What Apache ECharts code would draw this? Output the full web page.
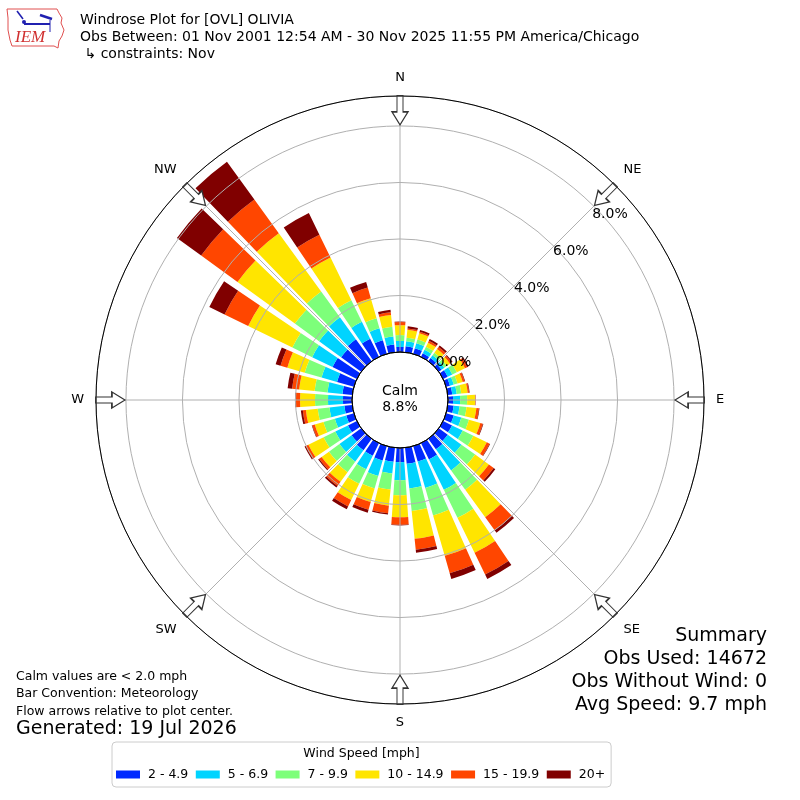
<!DOCTYPE html>
<html><head><meta charset="utf-8">
<script src="https://cdn.jsdelivr.net/npm/echarts@6/dist/echarts.min.js"></script>
<style>html,body{margin:0;padding:0;background:#fff}#c{width:800px;height:800px}</style>
</head><body><div id="c"></div>
<script>
// ---- data (percent of observations), direction bins clockwise from North ----
const directions = [0,10,20,30,40,50,60,70,80,90,100,110,120,130,140,150,160,170,180,190,200,210,220,230,240,250,260,270,280,290,300,310,320,330,340,350];
const speedBins = ['2 - 4.9','5 - 6.9','7 - 9.9','10 - 14.9','15 - 19.9','20+'];
const binColors = ['#0029ff','#00d4ff','#7dff7a','#ffe500','#ff4600','#800000'];
const pct_2_5   = [0.18,0.21,0.21,0.14,0.14,0.12,0.18,0.14,0.16,0.18,0.21,0.28,0.35,0.39,0.46,0.64,0.57,0.57,0.50,0.50,0.53,0.50,0.50,0.42,0.35,0.28,0.28,0.32,0.35,0.62,0.96,0.88,0.96,0.71,0.50,0.28];
const pct_5_7   = [0.21,0.18,0.18,0.14,0.12,0.12,0.18,0.14,0.16,0.25,0.21,0.28,0.42,0.60,0.92,1.20,0.97,0.88,0.64,0.42,0.57,0.53,0.50,0.53,0.50,0.42,0.53,0.53,0.53,0.57,0.80,0.96,0.96,0.67,0.44,0.28];
const pct_7_10  = [0.21,0.13,0.14,0.12,0.11,0.11,0.18,0.14,0.16,0.25,0.25,0.28,0.42,0.60,0.85,1.10,1.01,0.80,0.53,0.57,0.46,0.57,0.46,0.46,0.46,0.42,0.42,0.46,0.46,0.62,0.78,1.06,1.13,0.85,0.37,0.35];
const pct_10_15 = [0.35,0.28,0.23,0.16,0.16,0.14,0.32,0.19,0.23,0.28,0.35,0.42,0.53,0.60,1.20,1.38,1.49,0.99,0.78,0.57,0.50,0.64,0.42,0.32,0.60,0.32,0.42,0.53,0.55,0.64,1.74,2.51,2.55,1.68,0.74,0.42];
const pct_15_20 = [0.11,0.05,0.05,0.07,0.09,0.07,0.09,0.07,0.05,0.01,0.09,0.09,0.11,0.21,0.57,0.85,0.64,0.39,0.27,0.27,0.28,0.25,0.18,0.11,0.11,0.09,0.11,0.16,0.25,0.25,0.93,1.59,1.47,0.90,0.39,0.09];
const pct_20p   = [0.02,0.08,0.07,0.07,0.07,0.04,0.05,0.02,0.02,0.01,0.02,0.02,0.02,0.07,0.11,0.18,0.21,0.11,0.02,0.05,0.11,0.11,0.07,0.04,0.04,0.02,0.07,0.02,0.16,0.18,0.60,1.06,1.65,0.85,0.21,0.09];
const compassAngles = [0,45,90,135,180,225,270,315];
const compassLabels = ['N','NE','E','SE','S','SW','W','NW'];
const radialTicks = [0,2,4,6,8];
const calmPct = 8.8;
const RMAX = 9.06;      // outer circle value
const ARROW_R = 8.55;   // flow arrow centre radius
const titleLines = ['Windrose Plot for [OVL] OLIVIA','Obs Between: 01 Nov 2001 12:54 AM - 30 Nov 2025 11:55 PM America/Chicago',' \u21b3 constraints: Nov'];
const noteLines = ['Calm values are < 2.0 mph','Bar Convention: Meteorology','Flow arrows relative to plot center.'];
const summaryLines = ['Summary','Obs Used: 14672','Obs Without Wind: 0','Avg Speed: 9.7 mph'];
const generatedText = 'Generated: 19 Jul 2026';

const binSeries = [pct_2_5,pct_5_7,pct_7_10,pct_10_15,pct_15_20,pct_20p];
const FF = '"DejaVu Sans", sans-serif';
const GRID = '#b0b0b0';
const ARROW_PATH = 'path://M5,0L11,0L11,16L16,16L8,29L0,16L5,16Z';

const chart = echarts.init(document.getElementById('c'), null, {renderer:'canvas'});
const series = speedBins.map((name,i)=>({
  type:'bar', name, coordinateSystem:'polar', polarIndex:0, stack:'wind',
  data: binSeries[i], barCategoryGap:'20%', itemStyle:{color:binColors[i]}, z:2, silent:true
}));
series.push({
  type:'scatter', coordinateSystem:'polar', polarIndex:1, silent:true,
  data: compassAngles.map(a=>[ARROW_R,a]),
  symbol: ARROW_PATH, symbolSize:[16,29], symbolRotate:(v)=>-v[1],
  itemStyle:{color:'#fff', borderColor:'#333', borderWidth:1.3, opacity:1}, z:6
});

chart.setOption({
  animation:false,
  backgroundColor:'#fff',
  textStyle:{fontFamily:FF},
  title:[
    {text:titleLines.join('\n'), left:80, top:12, padding:0, textStyle:{fontSize:14, lineHeight:17, fontWeight:'normal', color:'#000', fontFamily:FF}},
    {text:'Calm\n'+calmPct.toFixed(1)+'%', left:400, top:383, padding:0, textAlign:'center', textStyle:{fontSize:14, lineHeight:16, fontWeight:'normal', color:'#000', fontFamily:FF}},
    {text:noteLines.join('\n'), left:16, top:668, padding:0, textStyle:{fontSize:12.5, lineHeight:17.3, fontWeight:'normal', color:'#000', fontFamily:FF}},
    {text:generatedText, left:16, top:718, padding:0, textStyle:{fontSize:19, lineHeight:22, fontWeight:'normal', color:'#000', fontFamily:FF}},
    {text:summaryLines.join('\n'), left:767, top:624, padding:0, textAlign:'right', textStyle:{fontSize:19, lineHeight:23.3, fontWeight:'normal', color:'#000', fontFamily:FF}},
    {text:'Wind Speed [mph]', left:361.5, top:746, padding:0, textAlign:'center', textStyle:{fontSize:12.5, lineHeight:15, fontWeight:'normal', color:'#000', fontFamily:FF}}
  ],
  legend:{
    data:speedBins, left:112, top:742, orient:'horizontal', icon:'rect',
    itemWidth:24, itemHeight:8, itemGap:7.5, selectedMode:false,
    padding:[26,6,6,4], borderColor:'#cccccc', borderWidth:1, borderRadius:4, backgroundColor:'#fff',
    textStyle:{fontFamily:FF, fontSize:12.5, color:'#000', padding:[0,0,0,3]}
  },
  polar:[
    {center:[400,400], radius:[48,304]},
    {center:[400,400], radius:[48,304]},
    {center:[400,400], radius:[65,280]},
    {center:[400,400], radius:[0,48]}
  ],
  angleAxis:[
    {polarIndex:0, type:'category', data:directions.map(String), startAngle:95, clockwise:true, boundaryGap:true,
     axisLine:{show:true, lineStyle:{color:'#000', width:1}}, axisTick:{show:false}, axisLabel:{show:false}, splitLine:{show:false}, z:3},
    {polarIndex:1, type:'value', min:0, max:360, interval:45, startAngle:90, clockwise:true,
     axisLine:{show:false}, axisTick:{show:false},
     axisLabel:{show:true, margin:12, fontSize:13, color:'#000', fontFamily:FF,
       formatter:(v)=>{const i=compassAngles.indexOf(v); return i>=0?compassLabels[i]:'';}},
     splitLine:{show:true, lineStyle:{color:GRID, width:1}}, z:3},
    {polarIndex:2, type:'value', min:0, max:360, startAngle:43.3, clockwise:true, show:false},
    {polarIndex:3, type:'value', min:0, max:360, startAngle:90, clockwise:true,
     axisLine:{show:true, lineStyle:{color:'#000', width:1}}, axisTick:{show:false}, axisLabel:{show:false}, splitLine:{show:false}, z:4}
  ],
  radiusAxis:[
    {polarIndex:0, type:'value', min:0, max:RMAX, interval:2,
     axisLine:{show:false}, axisTick:{show:false}, axisLabel:{show:false},
     splitLine:{show:true, lineStyle:{color:GRID, width:1}}, z:3},
    {polarIndex:1, type:'value', min:0, max:RMAX, show:false},
    {polarIndex:2, type:'value', min:radialTicks[0], max:radialTicks[radialTicks.length-1], interval:2,
     axisLine:{show:false}, axisTick:{show:false}, splitLine:{show:false},
     axisLabel:{show:true, margin:-9, align:'center', verticalAlign:'middle', fontSize:14, color:'#000', fontFamily:FF,
       formatter:(v)=>v.toFixed(1)+'%'}, z:5},
    {polarIndex:3, type:'value', min:0, max:1, show:false}
  ],
  series:series,
  graphic:[
    {type:'polyline', silent:true, shape:{points:[[7,9],[57,9],[59,13],[62,18],[61,23],[64,30],[62,36],[59,41],[58,48],[54,46],[12,46],[10,40],[8,30],[8,18],[7,9]]},
     style:{stroke:'#e05050', lineWidth:1, fill:null}},
    {type:'line', silent:true, shape:{x1:17,y1:11,x2:23,y2:19}, style:{stroke:'#2020b0', lineWidth:1.5}},
    {type:'line', silent:true, shape:{x1:24,y1:24,x2:50,y2:24}, style:{stroke:'#2020b0', lineWidth:2}},
    {type:'line', silent:true, shape:{x1:40,y1:15,x2:52,y2:19}, style:{stroke:'#2020b0', lineWidth:2.5}},
    {type:'line', silent:true, shape:{x1:50,y1:20,x2:50,y2:32}, style:{stroke:'#2020b0', lineWidth:1}},
    {type:'circle', silent:true, shape:{cx:24,cy:22,r:2}, style:{fill:'#2020b0'}},
    {type:'text', silent:true, x:15, y:29, style:{text:'IEM', font:'italic 17px "Liberation Serif", serif', fill:'#d03030'}}
  ]
});
</script></body></html>
